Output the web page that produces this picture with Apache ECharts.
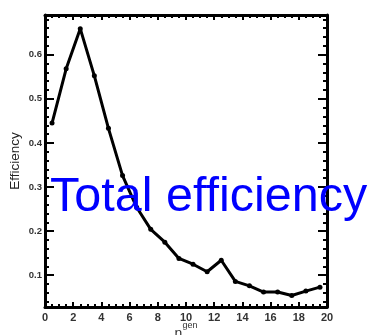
<!DOCTYPE html>
<html>
<head>
<meta charset="utf-8">
<script src="https://cdn.jsdelivr.net/npm/echarts@6/dist/echarts.min.js"></script>
<style>
  html, body { margin: 0; padding: 0; background: #fff; }
  #chart { width: 375px; height: 335px; }
</style>
</head>
<body>
<div id="chart"></div>
<script>
// Generated multiplicity bins (bin centres) and the total efficiency in each bin
const nGen = [0.5, 1.5, 2.5, 3.5, 4.5, 5.5, 6.5, 7.5, 8.5, 9.5,
              10.5, 11.5, 12.5, 13.5, 14.5, 15.5, 16.5, 17.5, 18.5, 19.5];
const efficiency = [0.445, 0.568, 0.659, 0.552, 0.433, 0.326, 0.254, 0.204, 0.175, 0.138,
                    0.125, 0.108, 0.134, 0.086, 0.076, 0.062, 0.062, 0.054, 0.064, 0.073];

// Tick values
const yMajorTicks = [0.1, 0.2, 0.3, 0.4, 0.5, 0.6];
const yMinorTicks = [0.04, 0.06, 0.08, 0.12, 0.14, 0.16, 0.18, 0.22, 0.24, 0.26, 0.28,
                     0.32, 0.34, 0.36, 0.38, 0.42, 0.44, 0.46, 0.48, 0.52, 0.54, 0.56, 0.58,
                     0.62, 0.64, 0.66, 0.68];
const yMin = 0.028, yMax = 0.69;

const FONT = 'Liberation Sans, Arial, sans-serif';
const chart = echarts.init(document.getElementById('chart'), null, { renderer: 'canvas' });

const frameLine = { show: true, onZero: false, lineStyle: { color: '#000', width: 3 } };
const noLine = { show: false, onZero: false };
const labelFont = { color: '#333', fontFamily: FONT, fontWeight: 'bold' };

function xAxisDef(pos, withLabels) {
  return {
    type: 'value', position: pos, min: 0, max: 20, interval: 2,
    axisLine: frameLine,
    axisTick: { show: true, inside: true, length: 5, lineStyle: { color: '#000', width: 2 } },
    minorTick: { show: true, splitNumber: 4, length: 3, lineStyle: { color: '#000', width: 2 } },
    splitLine: { show: false },
    axisLabel: withLabels ? Object.assign({ show: true, fontSize: 11, margin: 5 }, labelFont) : { show: false },
    name: withLabels ? '{n|n}{s|gen}' : '',
    nameLocation: 'middle',
    nameGap: 14,
    nameMoveOverlap: false,
    nameTextStyle: {
      rich: {
        n: { fontSize: 14, fontFamily: FONT, color: '#333', verticalAlign: 'bottom', lineHeight: 20 },
        s: { fontSize: 9, fontFamily: FONT, color: '#333', verticalAlign: 'top', lineHeight: 20 }
      }
    }
  };
}

function yAxisDef(pos, ticks, len, withLabels, withLine, name) {
  return {
    type: 'value', position: pos, min: yMin, max: yMax,
    axisLine: withLine ? frameLine : noLine,
    axisTick: { show: true, inside: true, length: len, customValues: ticks,
                lineStyle: { color: '#000', width: 2 } },
    axisLabel: withLabels
      ? Object.assign({ show: true, fontSize: 9.5, margin: 3, customValues: ticks,
                        formatter: v => v.toFixed(1) }, labelFont)
      : { show: false },
    splitLine: { show: false },
    name: name || '',
    nameLocation: 'middle',
    nameGap: 23,
    nameMoveOverlap: false,
    nameTextStyle: { fontSize: 13.5, color: '#222', fontFamily: FONT }
  };
}

chart.setOption({
  animation: false,
  grid: { left: 45, right: 48, top: 15, bottom: 28, containLabel: false, outerBoundsMode: 'none' },
  xAxis: [xAxisDef('bottom', true), xAxisDef('top', false)],
  yAxis: [
    yAxisDef('left', yMajorTicks, 9, true, true, 'Efficiency'),
    yAxisDef('left', yMinorTicks, 4, false, false),
    yAxisDef('right', yMajorTicks, 9, false, true),
    yAxisDef('right', yMinorTicks, 4, false, false)
  ],
  series: [{
    type: 'line',
    xAxisIndex: 0, yAxisIndex: 0,
    data: nGen.map((x, i) => [x, efficiency[i]]),
    symbol: 'circle', symbolSize: 5,
    itemStyle: { color: '#000' },
    lineStyle: { color: '#000', width: 3 },
    z: 2
  }],
  graphic: [{
    type: 'text', left: 50, top: 173, z: 100,
    style: { text: 'Total efficiency', fill: '#0000ff', fontSize: 48.5, fontFamily: FONT }
  }]
});
</script>
</body>
</html>
